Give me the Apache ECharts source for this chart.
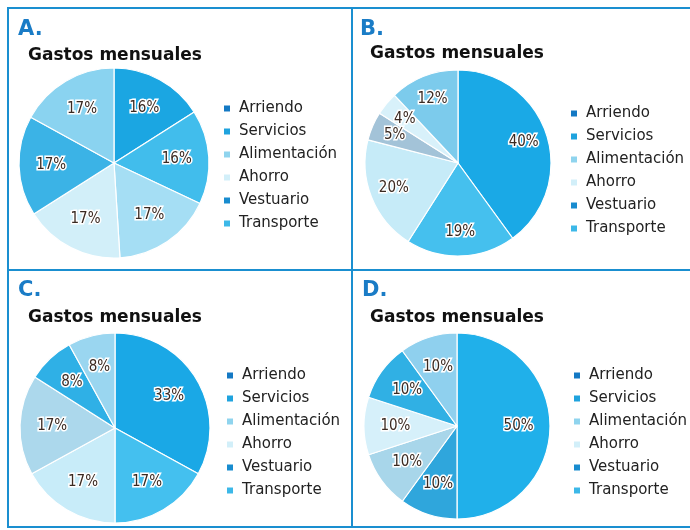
<!DOCTYPE html>
<html><head><meta charset="utf-8">
<script src="https://cdn.jsdelivr.net/npm/echarts@6/dist/echarts.min.js"></script>
<style>html,body{margin:0;padding:0;background:#fff}#c{width:690px;height:530px}</style>
</head><body><div id="c"></div><script>
// ---- data ----
const categories = ['Arriendo','Servicios','Alimentación','Ahorro','Vestuario','Transporte'];
const panelLetters = ['A.','B.','C.','D.'];
const chartTitle = 'Gastos mensuales';
const valuesA = [16,16,17,17,17,17];
const valuesB = [40,19,20,5,4,12];
const valuesC = [33,17,17,17,8,8];
const valuesD = [50,10,10,10,10,10];

// ---- styling / layout ----
const legendColors = ['#1479c4','#1fa3de','#8fd4ee','#d2eff9','#188ccf','#3cb8e8'];
const panels = [
  {vals: valuesA, letter:[18,19], title:[28,47], center:[114,163], r:95, legend:[222,101], lr:0.26,
   colors:['#1ba6e2','#41bdec','#a5def4','#d2eff9','#3bb3e6','#8ad3f0']},
  {vals: valuesB, letter:[360,19], title:[370,45], center:[458,163], r:93, legend:[569,106], lr:0.42,
   colors:['#1aa9e6','#45c0ee','#c6ebf8','#a3c3d8','#d8f1fa','#7ccbec']},
  {vals: valuesC, letter:[18,280], title:[28,309], center:[115,428], r:95, legend:[225,368], lr:0.26,
   colors:['#1aa8e6','#44c0ef','#c8ecf9','#acd8ec','#2fb0e6','#9ad6f0']},
  {vals: valuesD, letter:[362,280], title:[370,309], center:[457,426], r:93, legend:[572,368], lr:0.26,
   colors:['#20b0ea','#2fa6dc','#a8d6ea','#d6f0fa','#30b0e4','#8fd0ee']}
];

const chart = echarts.init(document.getElementById('c'), null, {renderer:'canvas'});
const title = [], legend = [], series = [];
panels.forEach((p, i) => {
  title.push({text: panelLetters[i], left: p.letter[0], top: p.letter[1], padding:0,
    textStyle:{fontFamily:'DejaVu Sans', fontWeight:'bold', fontSize:21, color:'#1a7cc6'}});
  title.push({text: chartTitle, left: p.title[0], top: p.title[1], padding:0,
    textStyle:{fontFamily:'DejaVu Sans', fontWeight:'bold', fontSize:17, color:'#111'}});
  legend.push({
    seriesIndex: [2*i], left: p.legend[0], top: p.legend[1], orient:'vertical', padding:0,
    itemWidth:8, itemHeight:8, itemGap:8, icon:'rect', selectedMode:false,
    textStyle:{fontFamily:'DejaVu Sans', fontSize:15, lineHeight:15, color:'#222', padding:[0,0,0,3]},
    data: categories.map((c, k) => ({name:c, itemStyle:{color:legendColors[k]}}))
  });
  const data = categories.map((c, k) => ({name:c, value:p.vals[k], itemStyle:{color:p.colors[k]}}));
  series.push({
    type:'pie', center:p.center, radius:p.r, startAngle:90, clockwise:true,
    silent:true, label:{show:false}, labelLine:{show:false},
    itemStyle:{borderColor:'#fff', borderWidth:1.2}, data
  });
  series.push({
    type:'pie', center:p.center, radius:[p.r*p.lr, p.r], startAngle:90, clockwise:true,
    silent:true, labelLine:{show:false}, minShowLabelAngle:0,
    itemStyle:{color:'rgba(0,0,0,0)', borderWidth:0},
    labelLayout:{hideOverlap:false},
    label:{show:true, position:'inside', formatter:'{c}%',
      fontFamily:'DejaVu Sans Condensed', fontSize:15, color:'#3a2a22',
      textBorderColor:'#fff', textBorderWidth:3},
    data: categories.map((c, k) => ({name:c, value:p.vals[k]}))
  });
});

const frameColor = '#1a8fd0';
chart.setOption({
  backgroundColor:'#fff',
  animation:false,
  title, legend, series,
  graphic:[
    {type:'rect', shape:{x:8, y:8, width:690, height:519}, style:{fill:'none', stroke:frameColor, lineWidth:2}, z:-1},
    {type:'line', shape:{x1:352, y1:8, x2:352, y2:527}, style:{stroke:frameColor, lineWidth:2}, z:-1},
    {type:'line', shape:{x1:8, y1:270, x2:690, y2:270}, style:{stroke:frameColor, lineWidth:2}, z:-1}
  ]
});
</script></body></html>
